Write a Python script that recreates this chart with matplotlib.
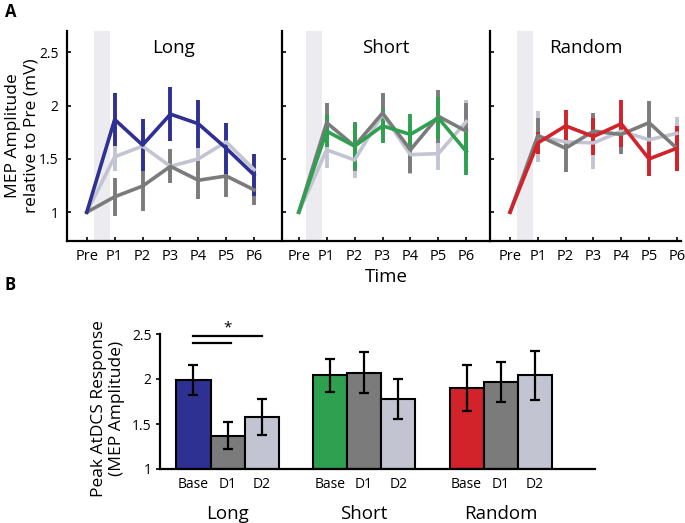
import matplotlib
matplotlib.use("Agg")
import matplotlib.pyplot as plt
import numpy as np

plt.rcParams['font.family'] = ['Open Sans', 'DejaVu Sans']

# ---- panel A data ----
time_labels = ['Pre', 'P1', 'P2', 'P3', 'P4', 'P5', 'P6']
conditions = ['Long', 'Short', 'Random']

# Base (coloured) series
long_base = [1.0, 1.87, 1.63, 1.92, 1.83, 1.60, 1.35]
long_base_err = [0, 0.245, 0.245, 0.25, 0.225, 0.24, 0.195]
short_base = [1.0, 1.76, 1.62, 1.81, 1.73, 1.885, 1.57]
short_base_err = [0, 0.15, 0.22, 0.16, 0.19, 0.20, 0.22]
random_base = [1.0, 1.65, 1.81, 1.71, 1.83, 1.50, 1.60]
random_base_err = [0, 0.10, 0.15, 0.17, 0.22, 0.16, 0.21]

# D1 (dark grey) series
long_d1 = [1.0, 1.145, 1.245, 1.43, 1.30, 1.34, 1.21]
long_d1_err = [0, 0.18, 0.23, 0.16, 0.18, 0.20, 0.14]
short_d1 = [1.0, 1.84, 1.62, 1.93, 1.585, 1.90, 1.76]
short_d1_err = [0, 0.18, 0.23, 0.19, 0.22, 0.25, 0.26]
random_d1 = [1.0, 1.72, 1.60, 1.76, 1.73, 1.84, 1.60]
random_d1_err = [0, 0.16, 0.22, 0.17, 0.18, 0.20, 0.21]

# D2 (light grey) series
long_d2 = [1.0, 1.52, 1.62, 1.43, 1.50, 1.66, 1.40]
long_d2_err = [0, 0.13, 0.14, 0.15, 0.14, 0.13, 0.12]
short_d2 = [1.0, 1.585, 1.49, 1.92, 1.54, 1.55, 1.85]
short_d2_err = [0, 0.17, 0.17, 0.20, 0.18, 0.15, 0.20]
random_d2 = [1.0, 1.71, 1.66, 1.65, 1.76, 1.68, 1.74]
random_d2_err = [0, 0.24, 0.14, 0.24, 0.12, 0.22, 0.15]

# ---- panel B data ----
session_labels = ['Base', 'D1', 'D2']
peak_long = [1.99, 1.37, 1.58]
peak_long_err = [0.17, 0.15, 0.20]
peak_short = [2.04, 2.07, 1.78]
peak_short_err = [0.18, 0.23, 0.22]
peak_random = [1.90, 1.97, 2.04]
peak_random_err = [0.26, 0.22, 0.27]

BLUE = '#2e3192'
GREEN = '#2ea04f'
RED = '#d2232a'
DARK = '#7b7b7b'
LIGHT = '#c2c4d2'
SHADE = '#ececf0'

fig = plt.figure(figsize=(6.85, 5.23), dpi=100)
W, H = 685.0, 523.0


def px_axes(left, top, right, bottom):
    return fig.add_axes([left / W, 1 - bottom / H, (right - left) / W, (bottom - top) / H])


panel_a = [
    ('Long', long_base, long_base_err, BLUE, (67, 280), (-0.71, 6.93)),
    ('Short', short_base, short_base_err, GREEN, (282, 490), (-0.6, 6.85)),
    ('Random', random_base, random_base_err, RED, (490, 681), (-0.72, 6.15)),
]
d1_series = [(long_d1, long_d1_err), (short_d1, short_d1_err), (random_d1, random_d1_err)]
d2_series = [(long_d2, long_d2_err), (short_d2, short_d2_err), (random_d2, random_d2_err)]

x = np.arange(len(time_labels))
for i, (name, base, base_err, col, (l, r), xl) in enumerate(panel_a):
    ax = px_axes(l, 31, r, 241)
    ax.axvspan(0.25, 0.82, color=SHADE, lw=0, zorder=0)
    for (vals, errs), c in [(d2_series[i], LIGHT), (d1_series[i], DARK), ((base, base_err), col)]:
        ax.errorbar(x, vals, yerr=errs, color=c, lw=2.6, elinewidth=2.8, capsize=0)
    ax.set_xlim(*xl)
    ax.set_ylim(0.73, 2.7)
    ax.set_yticks([1, 1.5, 2, 2.5])
    ax.set_xticks(x)
    ax.set_xticklabels(time_labels, fontsize=10.5)
    ax.tick_params(direction='in', length=3, width=1.2, pad=6)
    if i == 0:
        ax.set_yticklabels(['1', '1.5', '2', '2.5'], fontsize=10)
        ax.set_ylabel('MEP Amplitude\nrelative to Pre (mV)', fontsize=12.5, linespacing=1.15)
        ax.yaxis.set_label_coords((39 - l) / (r - l), 0.5)
    else:
        ax.set_yticklabels([])
    if i == 1:
        ax.set_xlabel('Time', fontsize=13.5, labelpad=3)
    ax.text(0.5, 0.92, name, transform=ax.transAxes, ha='center', va='center', fontsize=13.5)
    for s in ['top', 'right']:
        ax.spines[s].set_visible(False)
    for s in ['left', 'bottom']:
        ax.spines[s].set_linewidth(1.6)

# ---- panel B ----
axb = px_axes(160, 334, 595, 469)
group_vals = [peak_long, peak_short, peak_random]
group_errs = [peak_long_err, peak_short_err, peak_random_err]
group_cols = [BLUE, GREEN, RED]
tick_pos = []
tick_lab = []
for g, (vals, errs, c) in enumerate(zip(group_vals, group_errs, group_cols)):
    pos = np.arange(3) + 4 * g
    axb.bar(pos, np.array(vals) - 1, bottom=1, width=1.0, color=[c, DARK, LIGHT],
            edgecolor='black', linewidth=1.5, zorder=2)
    axb.errorbar(pos, vals, yerr=errs, fmt='none', ecolor='black', elinewidth=1.6,
                 capsize=3.5, capthick=1.6, zorder=3)
    tick_pos.extend(pos)
    tick_lab.extend(session_labels)
    axb.text(pos[1], -0.33, conditions[g], ha='center', va='center', fontsize=13.5,
             transform=axb.get_xaxis_transform())
axb.set_xlim(-0.98, 11.76)
axb.set_ylim(1, 2.5)
axb.set_yticks([1, 1.5, 2, 2.5])
axb.set_yticklabels(['1', '1.5', '2', '2.5'], fontsize=10)
axb.set_xticks(tick_pos)
axb.set_xticklabels(tick_lab, fontsize=10)
axb.tick_params(axis='x', length=0, pad=6)
axb.tick_params(axis='y', direction='out', length=3, width=1.2, pad=3)
axb.set_ylabel('Peak AtDCS Response\n(MEP Amplitude)', fontsize=12.5, linespacing=1.15)
axb.yaxis.set_label_coords((125 - 160) / 435, 0.45)
for s in ['top', 'right']:
    axb.spines[s].set_visible(False)
for s in ['left', 'bottom']:
    axb.spines[s].set_linewidth(1.6)

# significance bars
axb.plot([0, 1.1], [2.40, 2.40], color='black', lw=1.6, clip_on=False)
axb.plot([0, 2.0], [2.48, 2.48], color='black', lw=1.6, clip_on=False)
axb.text(1.0, 2.57, '*', ha='center', va='center', fontsize=11, clip_on=False)

fig.text(5 / W, 1 - 12 / H, 'A', fontsize=12, fontweight='bold', va='center')
fig.text(5 / W, 1 - 285 / H, 'B', fontsize=12, fontweight='bold', va='center')

fig.savefig('out.png', dpi=100)
